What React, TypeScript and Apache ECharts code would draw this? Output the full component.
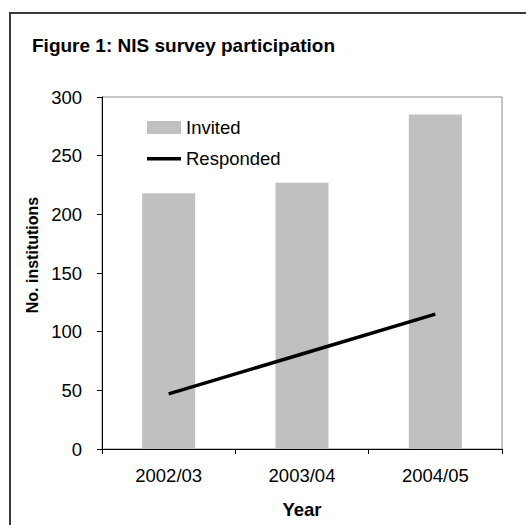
import React, { useEffect, useRef } from "react";
import * as echarts from "echarts";

const categories = ["2002/03", "2003/04", "2004/05"];
const invited = [218, 227, 285];
const responded = [47, 81, 115];
const yTicks = { min: 0, max: 300, interval: 50 };

const FONT = "'Liberation Sans', Arial, sans-serif";

export default function App() {
  const ref = useRef<HTMLDivElement>(null);
  useEffect(() => {
    document.body.style.margin = "0";
    const chart = echarts.init(ref.current!, null, { renderer: "svg" });
    chart.setOption({
      animation: false,
      backgroundColor: "#ffffff",
      textStyle: { fontFamily: FONT, color: "#000" },
      title: {
        text: "Figure 1: NIS survey participation",
        left: 32,
        top: 36,
        padding: 0,
        textStyle: { fontFamily: FONT, fontSize: 19, fontWeight: "bold", color: "#000" },
      },
      graphic: [
        {
          type: "rect",
          shape: { x: 10, y: 13, width: 530, height: 530 },
          style: { fill: "none", stroke: "#3a3a3a", lineWidth: 2 },
          silent: true,
        },
      ],
      legend: {
        orient: "vertical",
        left: 147,
        top: 118,
        padding: 0,
        itemWidth: 34,
        itemHeight: 13,
        itemGap: 12,
        textStyle: { fontFamily: FONT, fontSize: 18.5, color: "#000", padding: [0, 0, 0, 0] },
        data: [
          { name: "Invited", icon: "rect" },
          {
            name: "Responded",
            icon: "path://M0,0 M34,13 M0,5 L34,5 L34,8.5 L0,8.5 Z",
            itemStyle: { color: "#000" },
          },
        ],
      },
      grid: {
        left: 102,
        right: 24,
        top: 97,
        bottom: 76,
        show: true,
        borderColor: "#8c8c8c",
        borderWidth: 1,
        backgroundColor: "transparent",
      },
      xAxis: {
        type: "category",
        data: categories,
        name: "Year",
        nameLocation: "middle",
        nameGap: 51,
        nameTextStyle: { fontFamily: FONT, fontSize: 18.5, fontWeight: "bold", color: "#000" },
        axisLine: { show: true, lineStyle: { color: "#000", width: 1 } },
        axisTick: { show: true, length: 5, alignWithLabel: false, lineStyle: { color: "#000" } },
        axisLabel: { fontFamily: FONT, fontSize: 18.5, color: "#000", margin: 17 },
        splitLine: { show: false },
      },
      yAxis: {
        type: "value",
        min: yTicks.min,
        max: yTicks.max,
        interval: yTicks.interval,
        name: "No. institutions",
        nameLocation: "middle",
        nameGap: 61,
        nameTextStyle: {
          fontFamily: FONT,
          fontSize: 16,
          fontWeight: "bold",
          color: "#000",
          padding: [0, 0, 0, 36],
        },
        axisLine: { show: true, lineStyle: { color: "#000", width: 1 } },
        axisTick: { show: true, length: 5, lineStyle: { color: "#000" } },
        axisLabel: { fontFamily: FONT, fontSize: 18.5, color: "#000", margin: 20 },
        splitLine: { show: false },
      },
      series: [
        {
          name: "Invited",
          type: "bar",
          data: invited,
          barWidth: 53,
          itemStyle: { color: "#c0c0c0" },
        },
        {
          name: "Responded",
          type: "line",
          data: responded,
          symbol: "none",
          lineStyle: { color: "#000", width: 3.5 },
          itemStyle: { color: "#000" },
        },
      ],
    });
    return () => chart.dispose();
  }, []);
  return (
    <div
      ref={ref}
      style={{ position: "absolute", left: 0, top: 0, width: 526, height: 525 }}
    />
  );
}
